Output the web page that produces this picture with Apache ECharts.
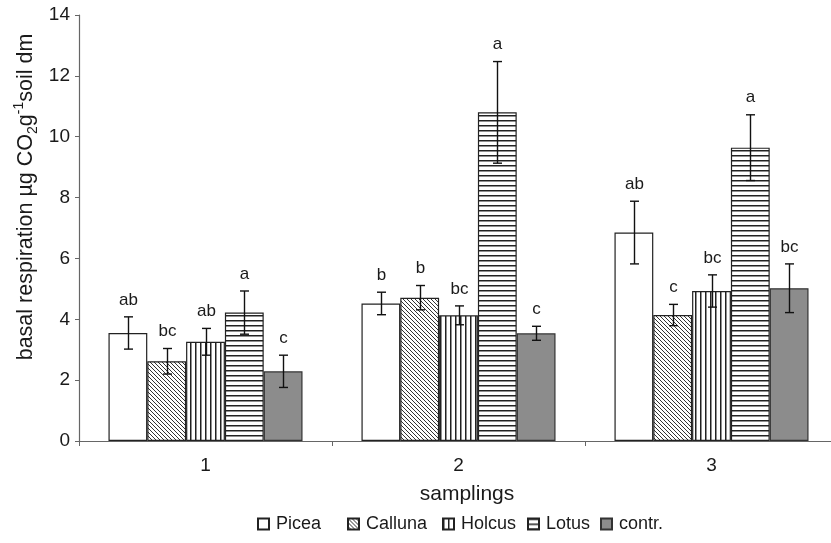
<!DOCTYPE html>
<html>
<head>
<meta charset="utf-8">
<script src="https://cdn.jsdelivr.net/npm/echarts@6/dist/echarts.min.js"></script>
<style>html,body{margin:0;padding:0;background:#fff}#c{width:831px;height:543px}</style>
</head>
<body>
<div id="c"></div>
<script>
// ---- data ----
const categories = ['1', '2', '3'];
const seriesNames = ['Picea', 'Calluna', 'Holcus', 'Lotus', 'contr.'];
const picea   = [3.55, 4.52, 6.85];
const calluna = [2.62, 4.71, 4.14];
const holcus  = [3.26, 4.13, 4.93];
const lotus   = [4.22, 10.80, 9.64];
const contr   = [2.29, 3.54, 5.02];
const piceaErr   = [0.53, 0.37, 1.03];
const callunaErr = [0.42, 0.40, 0.35];
const holcusErr  = [0.44, 0.31, 0.53];
const lotusErr   = [0.71, 1.67, 1.08];
const contrErr   = [0.53, 0.23, 0.80];
const piceaLet   = ['ab', 'b', 'ab'];
const callunaLet = ['bc', 'b', 'c'];
const holcusLet  = ['ab', 'bc', 'bc'];
const lotusLet   = ['a', 'a', 'a'];
const contrLet   = ['c', 'c', 'bc'];
const yTicks = { min: 0, max: 14, interval: 2 };

const values = [picea, calluna, holcus, lotus, contr];
const errors = [piceaErr, callunaErr, holcusErr, lotusErr, contrErr];
const letters = [piceaLet, callunaLet, holcusLet, lotusLet, contrLet];

// ---- patterns ----
function makePattern(kind) {
  const c = document.createElement('canvas');
  const ctx = c.getContext('2d');
  if (kind === 'diag') {
    c.width = 4; c.height = 4;
    ctx.fillStyle = '#fff'; ctx.fillRect(0, 0, 4, 4);
    ctx.strokeStyle = '#333'; ctx.lineWidth = 1.0;
    ctx.beginPath();
    ctx.moveTo(-1, -1); ctx.lineTo(5, 5);
    ctx.moveTo(-1, 3); ctx.lineTo(1, 5);
    ctx.moveTo(3, -1); ctx.lineTo(5, 1);
    ctx.stroke();
  } else if (kind === 'vert') {
    c.width = 5; c.height = 5;
    ctx.fillStyle = '#fff'; ctx.fillRect(0, 0, 5, 5);
    ctx.fillStyle = '#222'; ctx.fillRect(0, 0, 1.5, 5);
  } else if (kind === 'horz') {
    c.width = 5; c.height = 5;
    ctx.fillStyle = '#fff'; ctx.fillRect(0, 0, 5, 5);
    ctx.fillStyle = '#222'; ctx.fillRect(0, 0, 5, 1.5);
  }
  return { image: c, repeat: 'repeat' };
}
const fills = ['#ffffff', makePattern('diag'), makePattern('vert'), makePattern('horz'), '#8c8c8c'];
const borders = ['#222', '#222', '#222', '#222', '#333'];

const BAR_CAT_GAP = 0.233;
const FONT = 'Liberation Sans, Arial, sans-serif';
const TXT = '#1a1a1a';

const barSeries = seriesNames.map((name, i) => ({
  name: name,
  type: 'bar',
  data: values[i],
  barGap: '0%',
  barCategoryGap: (BAR_CAT_GAP * 100) + '%',
  itemStyle: { color: fills[i], borderColor: borders[i], borderWidth: 1.2 },
  emphasis: { disabled: true },
  animation: false
}));

const errData = [];
const errLetters = [];
values.forEach((arr, s) => {
  arr.forEach((v, c) => {
    errData.push([c, v, errors[s][c], s]);
    errLetters.push(letters[s][c]);
  });
});

const errSeries = {
  type: 'custom',
  name: 'err',
  z: 10,
  animation: false,
  silent: true,
  data: errData,
  encode: { x: 0, y: 1 },
  renderItem: function (params, api) {
    const cat = api.value(0), v = api.value(1), e = api.value(2), s = api.value(3);
    const catW = api.size([1, 0])[0];
    const bw = catW * (1 - BAR_CAT_GAP) / seriesNames.length;
    const c = api.coord([cat, v]);
    const x = Math.round(c[0] + (s - (seriesNames.length - 1) / 2) * bw) + 0.5;
    const top = api.coord([cat, v + e])[1];
    const bot = api.coord([cat, v - e])[1];
    const hw = 4.5;
    const ls = { stroke: '#111', lineWidth: 1.4 };
    return {
      type: 'group',
      children: [
        { type: 'line', shape: { x1: x, y1: top, x2: x, y2: bot }, style: ls },
        { type: 'line', shape: { x1: x - hw, y1: top, x2: x + hw, y2: top }, style: ls },
        { type: 'line', shape: { x1: x - hw, y1: bot, x2: x + hw, y2: bot }, style: ls },
        { type: 'text', x: x, y: top - 17,
          style: { text: errLetters[params.dataIndex], fill: TXT, font: '17px ' + FONT,
                   align: 'center', verticalAlign: 'middle' } }
      ]
    };
  }
};

const legendLefts = [257, 347, 442, 527, 600];
const legends = seriesNames.map((n, i) => ({
  data: [n],
  left: legendLefts[i], top: 515,
  itemWidth: 11, itemHeight: 11, itemGap: 0,
  padding: 0,
  icon: 'rect',
  textStyle: { fontSize: 18, color: TXT, fontFamily: FONT, padding: [0, 0, 0, 2] },
  selectedMode: false
}));

const chart = echarts.init(document.getElementById('c'), null, { renderer: 'canvas' });
chart.setOption({
  backgroundColor: '#fff',
  animation: false,
  textStyle: { fontFamily: FONT },
  grid: { left: 79, top: 15, width: 759, height: 426, containLabel: false, outerBoundsMode: 'none' },
  legend: legends,
  xAxis: {
    type: 'category',
    data: categories,
    axisLine: { lineStyle: { color: '#666', width: 1.2 } },
    axisTick: { show: true, length: 5, lineStyle: { color: '#666' } },
    axisLabel: { fontSize: 19, color: TXT, margin: 15, fontFamily: FONT }
  },
  yAxis: {
    type: 'value',
    min: yTicks.min, max: yTicks.max, interval: yTicks.interval,
    splitLine: { show: false },
    axisLine: { show: true, lineStyle: { color: '#666', width: 1.2 } },
    axisTick: { show: true, length: 4, lineStyle: { color: '#666' } },
    axisLabel: { fontSize: 19, color: TXT, margin: 9, fontFamily: FONT }
  },
  graphic: [
    { type: 'text', x: 467, y: 494,
      style: { text: 'samplings', fill: TXT, font: '21px ' + FONT, align: 'center', verticalAlign: 'middle' } },
    { type: 'text', x: 26, y: 197, rotation: Math.PI / 2,
      style: {
        text: '{n|basal respiration µg CO}{s|2}{n|g}{p|-1}{n|soil dm}',
        fill: TXT, align: 'center', verticalAlign: 'middle',
        rich: {
          n: { fontSize: 21.5, lineHeight: 28, fontFamily: FONT, fill: TXT },
          s: { fontSize: 14, lineHeight: 15, verticalAlign: 'bottom', fontFamily: FONT, fill: TXT },
          p: { fontSize: 14, lineHeight: 15, verticalAlign: 'top', fontFamily: FONT, fill: TXT }
        }
      } }
  ],
  series: barSeries.concat([errSeries])
});
</script>
</body>
</html>
